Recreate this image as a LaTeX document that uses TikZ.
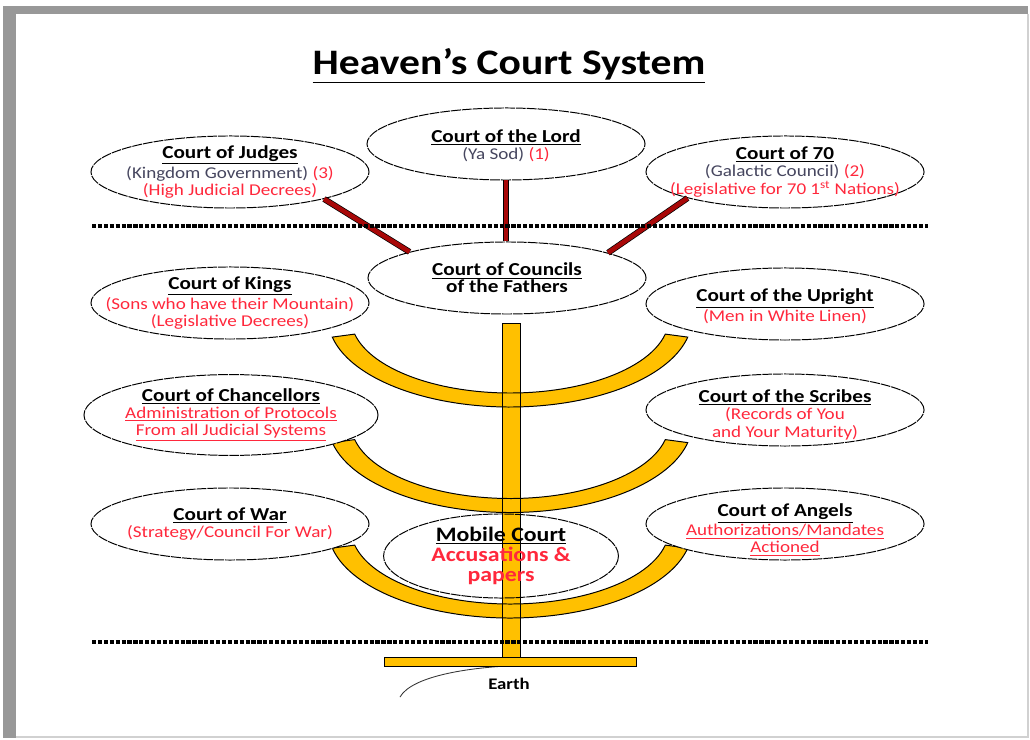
\documentclass[tikz,border=0pt]{standalone}
\usepackage{fontspec}
\setmainfont{Carlito}[FakeStretch = 1.16]
\usetikzlibrary{shapes.geometric}

\definecolor{gold}{RGB}{255,192,0}
\definecolor{rodred}{RGB}{168,8,8}
\definecolor{notered}{RGB}{255,40,60}
\definecolor{notegray}{RGB}{70,70,95}
\definecolor{framegray}{RGB}{152,152,152}

\newcommand{\ctitle}[1]{{\fontsize{13}{12.3}\selectfont\bfseries\underline{#1}}}
\newcommand{\cred}[1]{\textcolor{notered}{#1}}
\newcommand{\cgray}[1]{\textcolor{notegray}{#1}}

\begin{document}
\begin{tikzpicture}[x = 0.025cm, y = -0.025cm,
        court/.style = {ellipse, draw, fill = white, line width = 0.7pt, dash pattern = on 7pt off 0.7pt, minimum width = 6.95cm, minimum height = 1.8cm, inner sep = 0pt},
        courttext/.style = {align = center, font = \fontsize{11.7}{12.3}\selectfont, inner sep = 0pt},
        rod/.style = {line width = 0.5pt, double = rodred, double distance = 3.3pt},
        gilt/.style = {fill = gold},
        giltline/.style = {draw, line width = 0.7pt},
        divider/.style = {line width = 2.2pt, dash pattern = on 3pt off 1.2pt}]

        \fill[white] (0, 0) rectangle (1030, 740);
        \useasboundingbox (0, 0) rectangle (1030, 740);
        \fill[framegray] (3, 6) rectangle (16, 738);
        \fill[framegray] (3, 6) rectangle (1028, 14);
        \draw[framegray!45, line width = 0.8pt] (1028, 14) -- (1028, 737) -- (16, 737);

        \node[font = \fontsize{25.5}{28}\selectfont\bfseries, inner sep = 0pt] (heading) at (509, 66) {\underline{Heaven’s Court System}};

        \draw[line width = 0.6pt, black!80] (400, 697) .. controls (412, 676) and (470, 666) .. (533, 665);
        \node[font = \fontsize{11.5}{12}\selectfont\bfseries, inner sep = 0pt] (earth) at (509, 684) {Earth};

        \fill[gilt] (502, 323) rectangle (520, 657);
        \fill[gilt] (384, 657) rectangle (636, 666);
        \foreach \cy in {318, 423.5, 529}{
                \fill[gilt, shift = {(510, \cy)}] (167.6:182 and 89) arc[start angle = 167.6, end angle = 12.4, x radius = 182, y radius = 89] -- (12.4:159 and 75) arc[start angle = 12.4, end angle = 167.6, x radius = 159, y radius = 75] -- cycle;
            }

        \draw[giltline] (502, 323) rectangle (520, 657);
        \draw[giltline] (384, 657) rectangle (636, 666);
        \foreach \cy in {318, 423.5, 529}{
                \draw[giltline, shift = {(510, \cy)}] (167.6:182 and 89) arc[start angle = 167.6, end angle = 12.4, x radius = 182, y radius = 89] -- (12.4:159 and 75) arc[start angle = 12.4, end angle = 167.6, x radius = 159, y radius = 75] -- cycle;
            }

        \node[court, label = {[courttext, yshift = -0.04cm]center:{\ctitle{Court of the Lord}\\\cgray{(Ya Sod)} \cred{(1)}}}] (lord) at (506, 144) {};
        \node[court, label = {[courttext]center:{\ctitle{Court of Judges}\\\cgray{(Kingdom Government)} \cred{(3)}\\\cred{(High Judicial Decrees)}}}] (judges) at (230, 172) {};
        \node[court, label = {[courttext]center:{\ctitle{Court of 70}\\\cgray{(Galactic Council)} \cred{(2)}\\\cred{(Legislative for 70 1\textsuperscript{st} Nations)}}}] (seventy) at (785, 172) {};
        \node[court, label = {[courttext]center:{\ctitle{Court of Councils}\\{\fontsize{13}{12.3}\selectfont\bfseries of the Fathers}}}] (councils) at (507, 278) {};

        \node[court, label = {[courttext]center:{\ctitle{Court of Kings}\\\cred{(Sons who have their Mountain)}\\\cred{(Legislative Decrees)}}}] (kings) at (230, 303) {};
        \node[court, label = {[courttext, yshift = -0.06cm]center:{\ctitle{Court of the Upright}\\\cred{(Men in White Linen)}}}] (upright) at (785, 304) {};
        \node[court, minimum width = 7.35cm, minimum height = 2.02cm, label = {[courttext]center:{\ctitle{Court of Chancellors}\\\cred{\underline{Administration of Protocols}}\\\cred{\underline{From all Judicial Systems}}}}] (chancellors) at (231, 415) {};
        \node[court, label = {[courttext, yshift = -0.12cm]center:{\ctitle{Court of the Scribes}\\\cred{(Records of You}\\\cred{and Your Maturity)}}}] (scribes) at (785, 410) {};
        \node[court, label = {[courttext]center:{\ctitle{Court of War}\\\cred{(Strategy/Council For War)}}}] (war) at (230, 524) {};
        \node[court, label = {[courttext, yshift = -0.15cm]center:{\ctitle{Court of Angels}\\\cred{\underline{Authorizations/Mandates}}\\\cred{\underline{Actioned}}}}] (angels) at (785, 524) {};

        \node[court, fill = none, minimum width = 5.87cm, minimum height = 2.1cm, label = {[courttext, font = \fontsize{14.6}{14.2}\selectfont\bfseries]center:{\underline{Mobile Court}\\\cred{Accusations \&}\\\cred{papers}}}] (mobile) at (501, 556) {};

        \draw[rod] (judges.-16) -- (councils.165);
        \draw[rod] (lord.south) -- (lord.south |- councils.north);
        \draw[rod] (seventy.-165) -- (councils.14);

        \foreach \y in {226, 642}{
                \draw[divider] (92, \y) -- (928, \y);
            }

    \end{tikzpicture}
\end{document}
